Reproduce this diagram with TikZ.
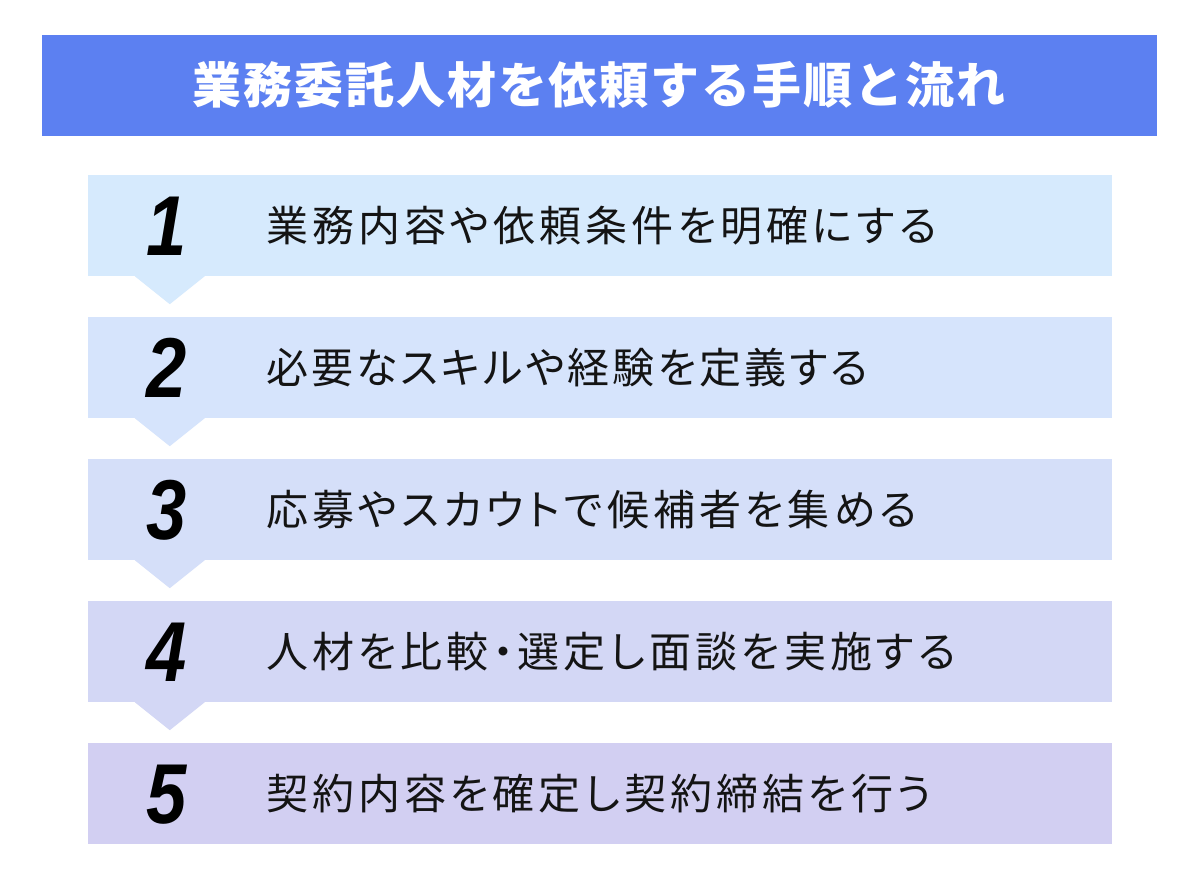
\documentclass[tikz,border=0pt]{standalone}
\usepackage{fontspec}
\newfontfamily\jp{Noto Sans CJK JP}[LetterSpace=9.5, RawFeature=+palt]
\newfontfamily\jpn{Noto Sans CJK JP}[LetterSpace=7, RawFeature=+palt]
\newfontfamily\jpt{Noto Sans CJK JP}[LetterSpace=4]
\newfontfamily\numf{Liberation Sans}[FakeStretch=0.85]
\definecolor{titlebg}{HTML}{5C80F1}
\definecolor{ca}{HTML}{D6EAFD}
\definecolor{cb}{HTML}{D6E4FC}
\definecolor{cc}{HTML}{D5DFF9}
\definecolor{cd}{HTML}{D3D7F5}
\definecolor{ce}{HTML}{D2CFF2}
\tikzset{
  rowbox/.style={draw=none, minimum width=1024pt, minimum height=101pt, inner sep=0pt},
  numtxt/.style={anchor=base, inner sep=0pt, font=\numf\bfseries\itshape\fontsize{85}{85}\selectfont, text=black},
  rowtxt/.style={anchor=base west, inner sep=0pt, text=black!92},
  titletxt/.style={anchor=base, inner sep=0pt, font=\jpt\bfseries\fontsize{49}{49}\selectfont, text=white}
}
\begin{document}
\begin{tikzpicture}[x=1pt,y=-1pt]
\useasboundingbox (0,0) rectangle (1200,891);
\fill[white] (0,0) rectangle (1200,891);
% title
\node[draw=none, fill=titlebg, minimum width=1115pt, minimum height=101pt, inner sep=0pt] (title) at (599.5,85.5) {};
\node[titletxt] (titletext) at (599,103) {業務委託人材を依頼する手順と流れ};
% rows
\foreach \i/\c/\num/\ff/\txt in {
  1/ca/1/\jp/業務内容や依頼条件を明確にする,
  2/cb/2/\jpn/必要なスキルや経験を定義する,
  3/cc/3/\jp/応募やスカウトで候補者を集める,
  4/cd/4/\jp/人材を比較・選定し面談を実施する,
  5/ce/5/\jp/契約内容を確定し契約締結を行う}{
  \pgfmathsetmacro\cy{225.5+(\i-1)*142}
  \node[rowbox, fill=\c] (r\i) at (600,\cy) {};
  \node[numtxt] (n\i) at (167,\cy+30) {\num};
  \node[rowtxt, font=\ff\fontsize{42}{42}\selectfont] (t\i) at (266,\cy+15.5) {\txt};
}
% arrows (triangles)
\foreach \i/\c in {1/ca,2/cb,3/cc,4/cd}{
  \fill[\c] (r\i.south west) ++(47,0) -- ++(70,0) -- ++(-35,28) -- cycle;
}
\end{tikzpicture}
\end{document}
